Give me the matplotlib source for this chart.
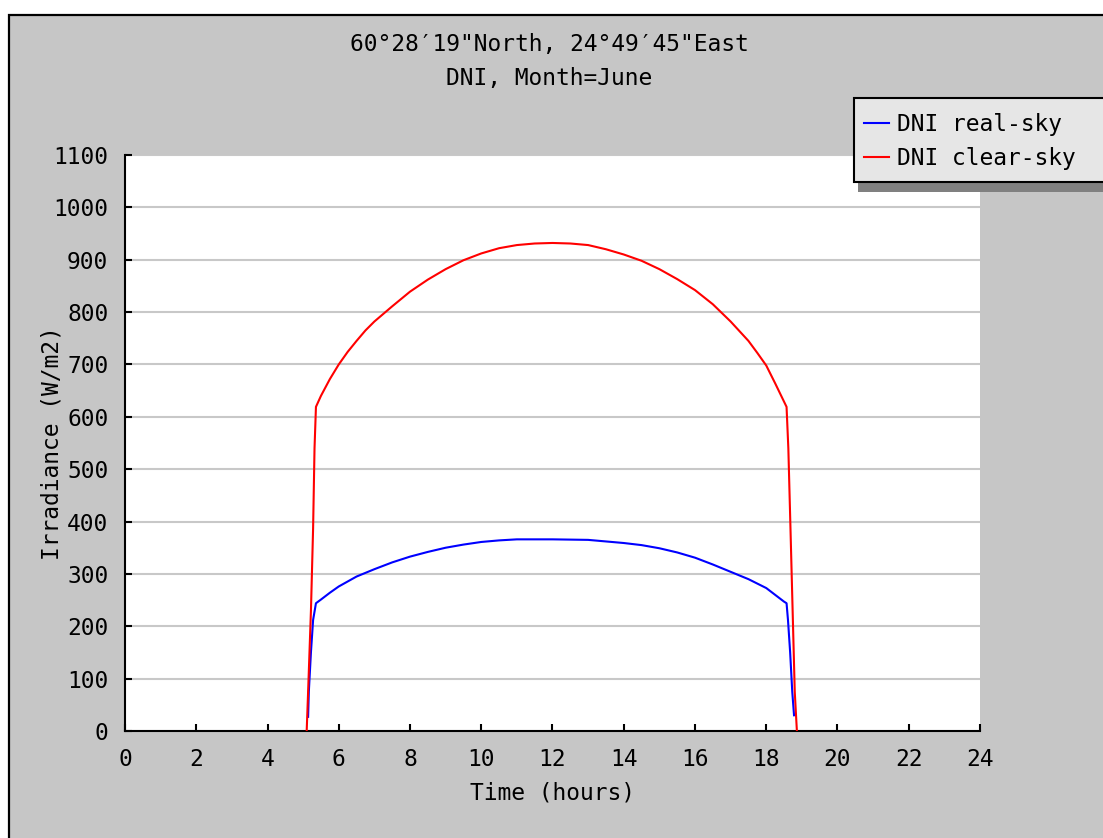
import matplotlib.pyplot as plt
from matplotlib.patches import Rectangle

# Datos (hora, W/m2)
hora_clear = [5.10, 5.14, 5.22, 5.28, 5.32, 5.36, 5.50, 5.75, 6.00, 6.25, 6.50, 6.75, 7.00,
              7.50, 8.00, 8.50, 9.00, 9.50, 10.00, 10.50, 11.00, 11.50, 12.00, 12.50, 13.00,
              13.50, 14.00, 14.50, 15.00, 15.50, 16.00, 16.50, 17.00, 17.50, 17.75, 18.00,
              18.25, 18.57, 18.62, 18.68, 18.74, 18.80, 18.86]
dni_clear = [0, 75, 231, 387, 540, 619, 640, 672, 700, 724, 745, 765, 782,
             811, 839, 862, 882, 899, 912, 922, 928, 931, 932, 931, 928,
             920, 910, 898, 882, 863, 842, 815, 782, 745, 722, 698,
             664, 619, 540, 387, 231, 75, 0]

hora_real = [5.14, 5.16, 5.22, 5.28, 5.36, 5.50, 5.75, 6.00, 6.50, 7.00, 7.50, 8.00, 8.50,
             9.00, 9.50, 10.00, 10.50, 11.00, 12.00, 13.00, 13.50, 14.00, 14.50, 15.00,
             15.50, 16.00, 16.50, 17.00, 17.50, 18.00, 18.25, 18.50, 18.57, 18.61, 18.67,
             18.73, 18.78]
dni_real = [27, 75, 151, 212, 244, 251, 264, 276, 295, 309, 322, 333, 342,
            350, 356, 361, 364, 366, 366, 365, 362, 359, 355, 349,
            341, 331, 318, 304, 290, 273, 260, 247, 244, 212, 151,
            75, 30]

titulo1 = "60°28′19\"North, 24°49′45\"East"
titulo2 = "DNI, Month=June"
xticks = list(range(0, 25, 2))
yticks = list(range(0, 1101, 100))

W, H = 1103, 838
plt.rcParams['font.family'] = ['DejaVu Sans Mono', 'DejaVu Sans']
plt.rcParams['font.size'] = 16.5

fig = plt.figure(figsize=(W / 100, H / 100), dpi=100)
fig.patch.set_facecolor("white")

# Fondo gris con borde negro
fondo = Rectangle((9 / W, -0.1), 1.2, 1.1 - 15 / H, transform=fig.transFigure,
                  facecolor="#c6c6c6", edgecolor="black", linewidth=1.6, zorder=-2)
fig.patches.append(fondo)

ax = fig.add_axes([125 / W, 1 - 731 / H, (980 - 125) / W, (731 - 155) / H])
ax.set_facecolor("white")

ax.plot(hora_real, dni_real, color="blue", linewidth=1.5, label="DNI real-sky", zorder=3)
ax.plot(hora_clear, dni_clear, color="red", linewidth=1.5, label="DNI clear-sky", zorder=4)

ax.set_xlim(0, 24)
ax.set_ylim(0, 1100)
ax.set_xticks(xticks)
ax.set_yticks(yticks)
ax.yaxis.grid(True, color="#c8c8c8", linewidth=1.5)
ax.set_axisbelow(True)
ax.tick_params(direction="in", length=5, width=1.5, pad=12, colors="black")
for lado in ["top", "right"]:
    ax.spines[lado].set_visible(False)
for lado in ["left", "bottom"]:
    ax.spines[lado].set_linewidth(1.5)

ax.set_xlabel("Time (hours)")
ax.xaxis.set_label_coords(0.5, -0.087)
fig.text(52 / W, 1 - 443 / H, "Irradiance (W/m2)", rotation=90, ha="center", va="center")

fig.text(549 / W, 1 - 45 / H, titulo1, ha="center", va="center")
fig.text(549 / W, 1 - 78 / H, titulo2, ha="center", va="center")

# Leyenda con sombra
sombra = Rectangle((858 / W, 1 - 192 / H), 0.5, (192 - 107) / H, transform=fig.transFigure,
                   facecolor="#808080", edgecolor="none", zorder=5)
caja = Rectangle((854 / W, 1 - 182 / H), 0.5, (182 - 98) / H, transform=fig.transFigure,
                 facecolor="#e6e6e6", edgecolor="black", linewidth=1.5, zorder=6)
fig.patches.append(sombra)
fig.patches.append(caja)
leg = fig.legend(loc="upper left", bbox_to_anchor=(864 / W, 1 - 113 / H), frameon=False,
                 borderpad=0, borderaxespad=0, handlelength=1.1, handletextpad=0.35,
                 labelspacing=0.5)
leg.set_zorder(7)

fig.savefig("out.png", dpi=100)
